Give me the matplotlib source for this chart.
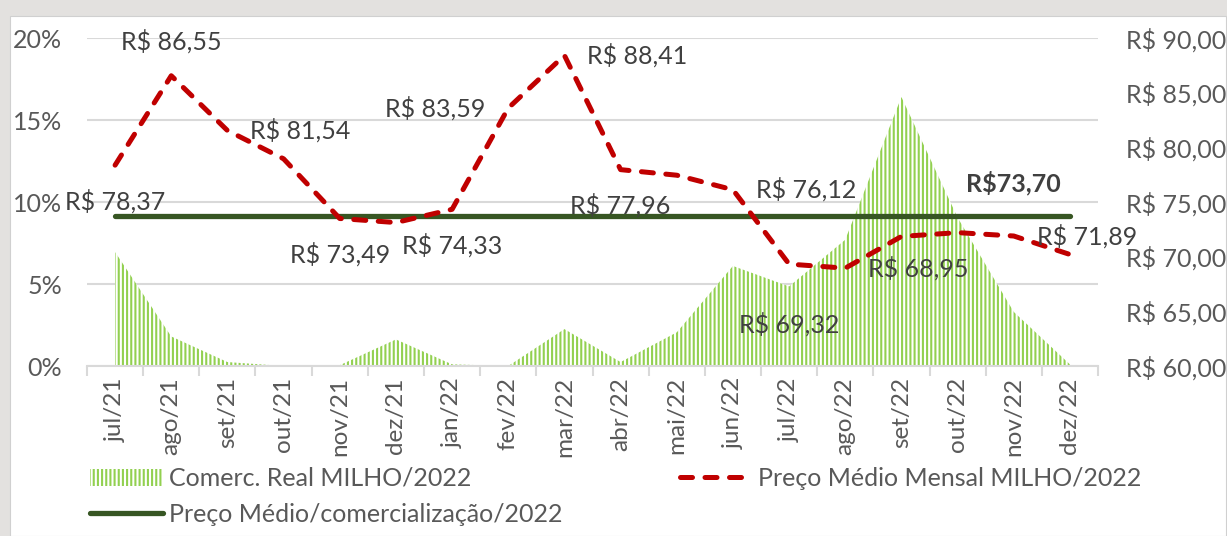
import matplotlib.pyplot as plt
from matplotlib.patches import Patch, Rectangle
from matplotlib.lines import Line2D
from matplotlib.ticker import FixedLocator, FuncFormatter

# Dados
meses = ["jul/21", "ago/21", "set/21", "out/21", "nov/21", "dez/21",
         "jan/22", "fev/22", "mar/22", "abr/22", "mai/22", "jun/22",
         "jul/22", "ago/22", "set/22", "out/22", "nov/22", "dez/22"]

# % comercializado no mes
comerc_real = [6.95, 1.8, 0.24, 0.0, 0.05, 1.62,
               0.1, 0.0, 2.25, 0.24, 2.05, 6.1,
               4.85, 7.7, 16.4, 9.05, 3.3, 0.1]

# preco medio mensal (R$/sc)
preco_mensal = [78.37, 86.55, 81.54, 78.95, 73.49, 73.12,
                74.33, 83.59, 88.41, 77.96, 77.45, 76.12,
                69.32, 68.95, 71.85, 72.2, 71.89, 70.2]

preco_medio_comerc = 73.70

# posicao dos rotulos
pos_rotulo = {0: "below", 1: "above", 2: "right", 4: "below", 6: "below",
              7: "left", 8: "right", 9: "below", 11: "right", 12: "below2",
              13: "right", 16: "right"}

plt.rcParams["font.family"] = ["Lato", "DejaVu Sans"]
FS = 18
CINZA = "#595959"
ROT = "#404040"
VERDE = "#375623"
VERMELHO = "#C00000"
AREA = "#92D050"
GRID = "#D9D9D9"

fig = plt.figure(figsize=(12.27, 5.36), dpi=100, facecolor="#e3e1df")
fig.patches.append(Rectangle((10 / 1227, 0), 1216 / 1227, 520 / 536,
                             transform=fig.transFigure, facecolor="white",
                             edgecolor="#d0d0d0", linewidth=0.8, zorder=-5))

ax = fig.add_axes([87 / 1227, 1 - 366 / 536, 1011 / 1227, 328 / 536])
ax.set_facecolor("none")
x = list(range(len(meses)))

# area comercializacao
plt.rcParams["hatch.linewidth"] = 1.5
ax.fill_between(x, comerc_real, 0, facecolor="white", edgecolor=AREA,
                hatch="||||", linewidth=0, zorder=2)

ax.set_xlim(-0.5, len(meses) - 0.5)
ax.set_ylim(0, 20)
ax.yaxis.set_major_locator(FixedLocator([0, 5, 10, 15, 20]))
ax.yaxis.set_major_formatter(FuncFormatter(lambda v, p: f"{int(v)}%"))
ax.grid(axis="y", color=GRID, linewidth=1.5, zorder=1)
ax.set_axisbelow(True)
for s in ["top", "left", "right"]:
    ax.spines[s].set_visible(False)
ax.spines["bottom"].set_color(GRID)
ax.spines["bottom"].set_linewidth(1.5)
ax.tick_params(axis="y", length=0, labelsize=FS, labelcolor=CINZA, pad=18)

ax.set_xticks(x)
ax.set_xticklabels(meses, rotation=90)
ax.set_xticks([i - 0.5 for i in range(len(meses) + 1)], minor=True)
ax.tick_params(axis="x", which="major", length=0, labelsize=17.5,
               labelcolor=CINZA, pad=8)
ax.tick_params(axis="x", which="minor", length=7, width=1.5, color=GRID)

# eixo direito: precos
ax2 = ax.twinx()
ax2.set_ylim(60, 90)
ax2.yaxis.set_major_locator(FixedLocator([60, 65, 70, 75, 80, 85, 90]))
ax2.yaxis.set_major_formatter(
    FuncFormatter(lambda v, p: f"R$ {v:.2f}".replace(".", ",")))
for s in ["top", "left", "right", "bottom"]:
    ax2.spines[s].set_visible(False)
ax2.tick_params(axis="y", length=0, labelsize=FS, labelcolor=CINZA, pad=20)

ax2.plot([x[0], x[-1]], [preco_medio_comerc] * 2, color=VERDE,
         linewidth=3.8, solid_capstyle="round", zorder=3)

dash = (0, (2.4, 2.5))
ax2.plot(x, preco_mensal, color=VERMELHO, linewidth=3.6, linestyle=dash,
         dash_capstyle="round", dash_joinstyle="round", zorder=4)

# rotulos de dados
offs = {"above": (0, 34, "center"), "below": (0, -36, "center"),
        "below2": (0, -60, "center"), "right": (23, 0, "left"),
        "left": (-23, 0, "right")}
for i, pos in pos_rotulo.items():
    dx, dy, ha = offs[pos]
    txt = f"R$ {preco_mensal[i]:.2f}".replace(".", ",")
    ax2.annotate(txt, (x[i], preco_mensal[i]), xytext=(dx * 0.72, dy * 0.72),
                 textcoords="offset points", ha=ha, va="center",
                 fontsize=FS, color=ROT, zorder=5)

ax2.annotate(f"R${preco_medio_comerc:.2f}".replace(".", ","),
             (x[16], preco_medio_comerc), xytext=(0, 33 * 0.72),
             textcoords="offset points", ha="center", va="center",
             fontsize=FS, color=ROT, fontweight="bold", zorder=5)

# legenda
h_area = Patch(facecolor="white", edgecolor=AREA, hatch="||||", linewidth=0)
h_verde = Line2D([], [], color=VERDE, linewidth=3.8, solid_capstyle="round")
h_verm = Line2D([], [], color=VERMELHO, linewidth=3.6, linestyle=dash,
                dash_capstyle="round")
fig.legend([h_area, h_verde, h_verm],
           ["Comerc. Real MILHO/2022", "Preço Médio/comercialização/2022",
            "Preço Médio Mensal MILHO/2022"],
           ncol=2, loc="upper left", bbox_to_anchor=(90 / 1227, 1 - 467 / 536),
           frameon=False, fontsize=FS, labelcolor=CINZA, handlelength=2.9,
           handletextpad=0.25, columnspacing=4.7, labelspacing=0.5,
           borderpad=0, borderaxespad=0)

fig.savefig("out.png", dpi=100, facecolor=fig.get_facecolor())
